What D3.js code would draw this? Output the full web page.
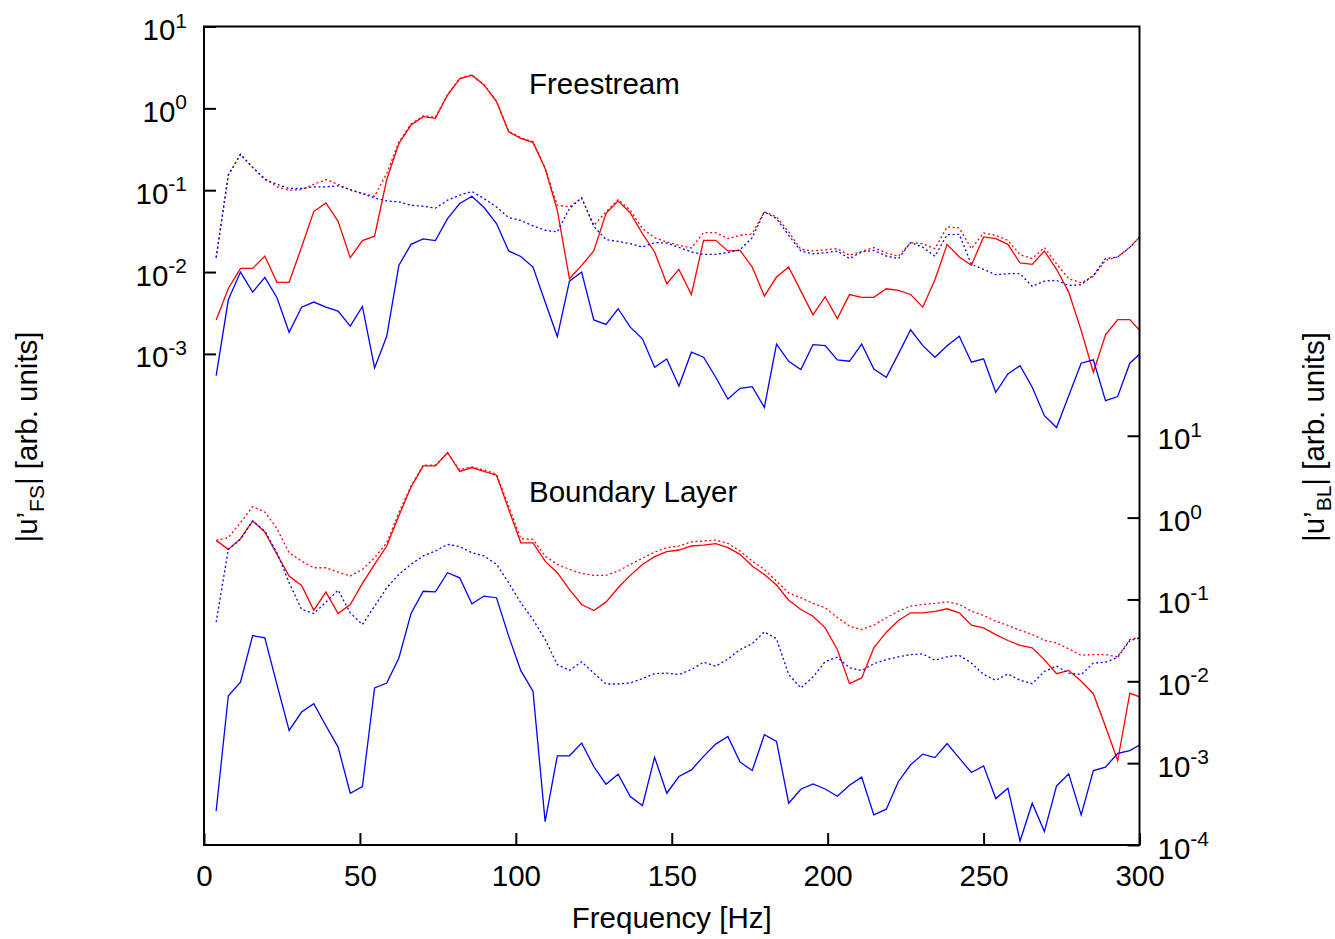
<!DOCTYPE html>
<html>
<head>
<meta charset="utf-8">
<script src="https://cdn.jsdelivr.net/npm/d3@7"></script>
<style>
  html, body { margin: 0; padding: 0; background: #ffffff; }
  svg { display: block; }
  text { font-family: "Liberation Sans", Arial, Helvetica, sans-serif; fill: #000; }
</style>
</head>
<body>
<svg id="chart" width="1335" height="939"></svg>
<script>
// ---------------- data ----------------
const freq = [3.9,7.8,11.7,15.6,19.5,23.4,27.3,31.3,35.2,39.1,
  43.0,46.9,50.8,54.7,58.6,62.5,66.4,70.3,74.2,78.1,
  82.0,85.9,89.8,93.8,97.7,101.6,105.5,109.4,113.3,117.2,
  121.1,125.0,128.9,132.8,136.7,140.6,144.5,148.4,152.3,156.3,
  160.2,164.1,168.0,171.9,175.8,179.7,183.6,187.5,191.4,195.3,
  199.2,203.1,207.0,210.9,214.8,218.8,222.7,226.6,230.5,234.4,
  238.3,242.2,246.1,250.0,253.9,257.8,261.7,265.6,269.5,273.4,
  277.3,281.3,285.2,289.1,293.0,296.9,300.8];

const fsRedSolid = [0.0026,0.0063,0.0111,0.0111,0.0157,0.0075,0.0075,0.0202,0.0548,0.070,
  0.0417,0.0150,0.0242,0.0274,0.135,0.372,0.625,0.791,0.755,1.455,
  2.29,2.54,1.93,1.21,0.518,0.430,0.384,0.184,0.0569,0.00828,
  0.01205,0.0181,0.0518,0.0740,0.0527,0.0294,0.0176,0.00719,0.01076,0.00532,
  0.0244,0.0244,0.0181,0.0184,0.01151,0.00508,0.00869,0.01151,0.00585,0.0030,
  0.0050,0.0027,0.0053,0.0049,0.0049,0.00625,0.00597,0.00532,0.00372,0.00805,
  0.0218,0.0153,0.0121,0.0269,0.0256,0.0218,0.0129,0.0124,0.0181,0.0108,
  0.00569,0.00193,0.000596,0.00171,0.00263,0.00263,0.0018];

const fsRedDotted = [0.0150,0.153,0.274,0.190,0.139,0.110,0.100,0.102,0.118,0.135,
  0.118,0.100,0.091,0.0845,0.160,0.39,0.645,0.81,0.78,1.48,
  2.32,2.57,1.95,1.23,0.525,0.437,0.39,0.186,0.0655,0.0625,
  0.0805,0.0372,0.0543,0.0769,0.0569,0.0340,0.0263,0.0233,0.0212,0.0197,
  0.0303,0.0303,0.0256,0.0281,0.0294,0.0543,0.0471,0.0309,0.0190,0.0181,
  0.0187,0.0193,0.0160,0.0179,0.0199,0.0171,0.0156,0.0229,0.0222,0.0193,
  0.0356,0.0346,0.0193,0.0301,0.0281,0.0244,0.0163,0.0146,0.0199,0.0126,
  0.00828,0.0074,0.00885,0.0139,0.0153,0.0202,0.0286];

const fsBlueSolid = [0.000543,0.00458,0.0100,0.00569,0.00861,0.00485,0.00184,0.00372,0.00430,0.00372,
  0.00333,0.00218,0.0038,0.000675,0.00164,0.0121,0.0218,0.0254,0.0242,0.0450,
  0.0687,0.0845,0.0614,0.0391,0.0181,0.0155,0.0115,0.0043,0.00163,0.00774,
  0.0100,0.0026,0.00229,0.00356,0.00212,0.00153,0.000687,0.000869,0.000406,0.00105,
  0.00091,0.000518,0.000281,0.00038,0.000398,0.000222,0.00132,0.000813,0.000643,0.0013,
  0.00126,0.000845,0.000813,0.00132,0.000655,0.000518,0.001,0.00197,0.00126,0.00091,
  0.00126,0.00164,0.000791,0.000869,0.00034,0.000569,0.000719,0.000391,0.000176,0.000126,
  0.000309,0.000769,0.000845,0.000269,0.000301,0.000769,0.00105];

const fsBlueDotted = [0.0150,0.153,0.274,0.190,0.135,0.118,0.105,0.105,0.110,0.110,
  0.113,0.102,0.091,0.0805,0.0740,0.0719,0.0655,0.0637,0.0603,0.0755,
  0.0869,0.0964,0.0791,0.0625,0.0462,0.0427,0.0366,0.0324,0.0309,0.0596,
  0.0805,0.0362,0.0249,0.0237,0.0222,0.0202,0.0229,0.0226,0.0200,0.0176,
  0.0164,0.0164,0.0173,0.0187,0.0263,0.0543,0.0450,0.0281,0.0181,0.0167,
  0.0172,0.0181,0.0146,0.0176,0.0184,0.0157,0.0146,0.0229,0.0202,0.0156,
  0.0286,0.0289,0.0124,0.0108,0.00927,0.00955,0.00955,0.00667,0.00776,0.00791,
  0.00687,0.0070,0.0091,0.0146,0.0153,0.0199,0.0286];

const blRedSolid = [0.527,0.409,0.553,0.910,0.667,0.356,0.193,0.148,0.0740,0.123,
  0.0673,0.0867,0.157,0.268,0.450,1.05,2.37,4.29,4.29,6.25,
  3.66,4.09,3.66,3.30,1.26,0.493,0.49,0.294,0.212,0.132,
  0.0867,0.0733,0.0927,0.139,0.197,0.268,0.333,0.383,0.402,0.450,
  0.462,0.480,0.429,0.356,0.256,0.202,0.150,0.098,0.0753,0.0625,
  0.045,0.0245,0.00935,0.011,0.0256,0.0398,0.0553,0.0687,0.0687,0.0713,
  0.0769,0.0687,0.0485,0.045,0.0372,0.0315,0.0274,0.0256,0.0184,0.0124,
  0.0136,0.0100,0.00706,0.00281,0.00107,0.00719,0.0063];

const blRedDotted = [0.527,0.569,0.867,1.36,1.17,0.733,0.372,0.294,0.244,0.244,
  0.216,0.193,0.233,0.324,0.494,1.15,2.44,4.37,4.37,6.14,
  3.83,4.17,3.83,3.39,1.39,0.553,0.542,0.339,0.268,0.233,
  0.208,0.197,0.197,0.222,0.268,0.318,0.379,0.429,0.450,0.504,
  0.518,0.532,0.484,0.390,0.294,0.233,0.167,0.120,0.105,0.0893,
  0.0794,0.0603,0.0471,0.0429,0.0485,0.0598,0.0719,0.0828,0.0869,0.0893,
  0.0935,0.0869,0.0719,0.0637,0.0542,0.0481,0.0421,0.0372,0.0318,0.0294,
  0.0249,0.0208,0.0212,0.0212,0.0199,0.0324,0.0349];

const blBlueSolid = [0.00026,0.00667,0.00973,0.0362,0.034,0.0091,0.00251,0.00421,0.00533,0.00286,
  0.00157,0.000429,0.000518,0.00828,0.00953,0.0193,0.0675,0.126,0.124,0.212,
  0.184,0.0885,0.110,0.105,0.0356,0.0135,0.00755,0.000193,0.00123,0.00123,
  0.00176,0.00091,0.000553,0.000733,0.000391,0.000303,0.00118,0.000429,0.000686,0.000828,
  0.00121,0.00171,0.00212,0.00103,0.000813,0.00222,0.00184,0.000324,0.00048,0.000557,
  0.000483,0.000394,0.000538,0.000675,0.000233,0.000274,0.000597,0.000955,0.00129,0.00117,
  0.00174,0.00115,0.000769,0.000927,0.000369,0.000494,0.000112,0.000324,0.000146,0.000527,
  0.00074,0.000233,0.000813,0.000893,0.00132,0.00142,0.00173];

const blBlueDotted = [0.0527,0.409,0.542,0.910,0.686,0.372,0.160,0.0755,0.0673,0.0927,
  0.130,0.0685,0.0494,0.0828,0.139,0.202,0.269,0.340,0.391,0.471,
  0.442,0.372,0.340,0.269,0.160,0.091,0.0569,0.0324,0.016,0.0136,
  0.0173,0.0126,0.00927,0.00927,0.00955,0.0108,0.0124,0.0126,0.0121,0.0139,
  0.0171,0.0153,0.0187,0.0244,0.0289,0.0402,0.033,0.0121,0.00828,0.0113,
  0.0174,0.0197,0.0146,0.0135,0.0164,0.0184,0.0199,0.0212,0.0216,0.0181,
  0.0199,0.0208,0.0167,0.0121,0.0103,0.0123,0.0103,0.00935,0.0132,0.0153,
  0.0126,0.0121,0.0167,0.0171,0.0197,0.0315,0.0346];

const xTicks = [0, 50, 100, 150, 200, 250, 300];
const fsTicks = [10, 1, 0.1, 0.01, 0.001];
const fsTickExp = ["1", "0", "-1", "-2", "-3"];
const blTicks = [10, 1, 0.1, 0.01, 0.001, 0.0001];
const blTickExp = ["1", "0", "-1", "-2", "-3", "-4"];

const xDomain = [0, 300];
const fsDomain = [1e-9, 10];
const blDomain = [1e-4, 1e6];

// ---------------- layout ----------------
const L = 204, R = 1139.5, T = 26.5, B = 845;
const svg = d3.select("#chart");
svg.append("rect").attr("width", 1335).attr("height", 939).attr("fill", "#fff");

const x = d3.scaleLinear().domain(xDomain).range([L, R]);
const yFS = d3.scaleLog().domain(fsDomain).range([B, T]);
const yBL = d3.scaleLog().domain(blDomain).range([B, T]);

svg.append("clipPath").attr("id", "plotclip")
  .append("rect").attr("x", L).attr("y", T).attr("width", R - L).attr("height", B - T);

const plot = svg.append("g").attr("clip-path", "url(#plotclip)");

function drawSeries(values, yScale, color, dotted) {
  const line = d3.line().x((d, i) => x(freq[i])).y(d => yScale(d));
  plot.append("path")
    .datum(values)
    .attr("d", line)
    .attr("fill", "none")
    .attr("stroke", color)
    .attr("stroke-width", 1.3)
    .attr("stroke-linejoin", "miter")
    .attr("stroke-dasharray", dotted ? "2,2.6" : null);
}

drawSeries(fsRedSolid, yFS, "#ff0000", false);
drawSeries(fsRedDotted, yFS, "#ff0000", true);
drawSeries(fsBlueSolid, yFS, "#0000ff", false);
drawSeries(fsBlueDotted, yFS, "#0000ff", true);
drawSeries(blRedSolid, yBL, "#ff0000", false);
drawSeries(blRedDotted, yBL, "#ff0000", true);
drawSeries(blBlueSolid, yBL, "#0000ff", false);
drawSeries(blBlueDotted, yBL, "#0000ff", true);

// ---------------- axes ----------------
const FONT = 29.5, SUP = 21;

const gx = svg.append("g").attr("transform", `translate(0,${B})`)
  .call(d3.axisBottom(x).tickValues(xTicks).tickSizeInner(-12).tickSizeOuter(0).tickFormat(d3.format("d")));
gx.select(".domain").remove();
gx.selectAll(".tick line").attr("stroke", "#000").attr("stroke-width", 2);
gx.selectAll(".tick text").attr("font-size", FONT).attr("y", 41).attr("dy", null)
  .attr("font-family", "Liberation Sans, Arial, sans-serif");

function expLabel(sel, exps) {
  sel.each(function (d, i) {
    const t = d3.select(this);
    t.text(null);
    t.append("tspan").text("10");
    t.append("tspan").attr("font-size", SUP).attr("dy", -12.5).text(exps[i]);
  });
}

const gl = svg.append("g").attr("transform", `translate(${L},0)`)
  .call(d3.axisLeft(yFS).tickValues(fsTicks).tickSizeInner(-12).tickSizeOuter(0));
gl.select(".domain").remove();
gl.selectAll(".tick line").attr("stroke", "#000").attr("stroke-width", 2);
gl.selectAll(".tick text").attr("font-size", FONT).attr("x", -17).attr("dy", null).attr("y", 13)
  .attr("text-anchor", "end").attr("font-family", "Liberation Sans, Arial, sans-serif")
  .call(expLabel, fsTickExp);

const gr = svg.append("g").attr("transform", `translate(${R},0)`)
  .call(d3.axisRight(yBL).tickValues(blTicks).tickSizeInner(-12).tickSizeOuter(0));
gr.select(".domain").remove();
gr.selectAll(".tick line").attr("stroke", "#000").attr("stroke-width", 2);
gr.selectAll(".tick text").attr("font-size", FONT).attr("x", 18).attr("dy", null).attr("y", 13)
  .attr("text-anchor", "start").attr("font-family", "Liberation Sans, Arial, sans-serif")
  .call(expLabel, blTickExp);

// border
svg.append("rect").attr("x", L).attr("y", T).attr("width", R - L).attr("height", B - T)
  .attr("fill", "none").attr("stroke", "#000").attr("stroke-width", 2);

// ---------------- labels ----------------
svg.append("text").attr("x", (L + R) / 2).attr("y", 928).attr("text-anchor", "middle")
  .attr("font-size", FONT).text("Frequency [Hz]");

function yLabel(cx, cy, sub) {
  const t = svg.append("text").attr("transform", `translate(${cx},${cy}) rotate(-90)`)
    .attr("text-anchor", "middle").attr("font-size", FONT);
  t.append("tspan").text("|u\u2019");
  t.append("tspan").attr("font-size", SUP).attr("dy", 7).text(sub);
  t.append("tspan").attr("dy", -7).text("| [arb. units]");
}
yLabel(37, 437, "FS");
yLabel(1324, 437, "BL");

svg.append("text").attr("x", 529).attr("y", 94).attr("font-size", FONT).text("Freestream");
svg.append("text").attr("x", 529).attr("y", 502).attr("font-size", FONT).text("Boundary Layer");
</script>
</body>
</html>
